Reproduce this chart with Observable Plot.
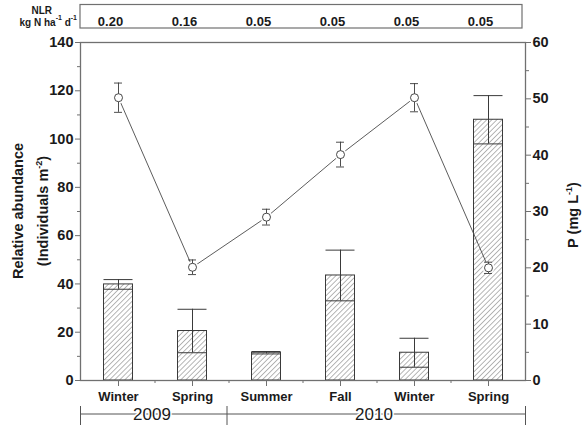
<!DOCTYPE html>
<html><head><meta charset="utf-8">
<script src="https://cdn.jsdelivr.net/npm/d3@7"></script>
<script src="https://cdn.jsdelivr.net/npm/@observablehq/plot@0.6"></script>
<style>
body{margin:0;background:#fff}
#chart svg{font-family:"Liberation Sans", Arial, sans-serif;}
</style>
</head><body><div id="chart"></div>
<script>
// ---- data ----
const seasons = ["Winter", "Spring", "Summer", "Fall", "Winter", "Spring"];
const years = ["2009", "2009", "2010", "2010", "2010", "2010"];
const abundance = [39.8, 20.5, 11.5, 43.5, 11.5, 108];
const abundanceSD = [2, 9, 0.5, 10.5, 6, 10];
const phosphorus = [50.2, 20.1, 29, 40.1, 50.2, 20];
const phosphorusSD = [2.6, 1.3, 1.4, 2.2, 2.5, 1];
const nlr = ["0.20", "0.16", "0.05", "0.05", "0.05", "0.05"];
const leftTicks = [0, 20, 40, 60, 80, 100, 120, 140];
const leftMinor = [10, 30, 50, 70, 90, 110, 130];
const rightTicks = [0, 10, 20, 30, 40, 50, 60];
const rightMinor = [5, 15, 25, 35, 45, 55];
const leftMax = 140, rightMax = 60;

// ---- table ----
const k = leftMax / rightMax;
const rows = seasons.map((s, i) => ({
  i, season: s, year: years[i], nlr: nlr[i],
  a: abundance[i], aLo: abundance[i] - abundanceSD[i], aHi: abundance[i] + abundanceSD[i],
  p: phosphorus[i] * k, pLo: (phosphorus[i] - phosphorusSD[i]) * k, pHi: (phosphorus[i] + phosphorusSD[i]) * k
}));

const ink = "#1a1a1a", axisGray = "#707070", barInk = "#3a3a3a";
const barInset = 22.5, capInset = 33;
const mTop = 42, mBottom = 47, W = 582, H = 427;

const plot = Plot.plot({
  width: W, height: H,
  marginLeft: 80, marginRight: 57, marginTop: mTop, marginBottom: mBottom,
  style: {fontFamily: "'Liberation Sans', Arial, sans-serif", color: ink, background: "#fff", overflow: "visible"},
  x: {type: "band", domain: d3.range(seasons.length), padding: 0, axis: null},
  y: {domain: [0, leftMax], axis: null},
  marks: [
    Plot.barY(rows, {x: "i", y: "a", fill: "url(#hatch)", stroke: barInk, strokeWidth: 1, insetLeft: barInset, insetRight: barInset}),
    Plot.ruleX(rows, {x: "i", y1: "aLo", y2: "aHi", stroke: barInk, strokeWidth: 1}),
    Plot.tickY(rows, {x: "i", y: "aHi", stroke: barInk, strokeWidth: 1, insetLeft: barInset, insetRight: barInset}),
    Plot.tickY(rows, {x: "i", y: "aLo", stroke: barInk, strokeWidth: 1, insetLeft: barInset, insetRight: barInset}),
    Plot.line(rows, {x: "i", y: "p", stroke: "#4a4a4a", strokeWidth: 0.9}),
    Plot.dot(rows, {x: "i", y: "p", r: 6, fill: "white", stroke: "none"}),
    Plot.ruleX(rows, {x: "i", y1: "pLo", y2: "pHi", stroke: "#3a3a3a", strokeWidth: 0.9}),
    Plot.tickY(rows, {x: "i", y: "pHi", stroke: "#3a3a3a", strokeWidth: 0.9, insetLeft: capInset, insetRight: capInset}),
    Plot.tickY(rows, {x: "i", y: "pLo", stroke: "#3a3a3a", strokeWidth: 0.9, insetLeft: capInset, insetRight: capInset}),
    Plot.dot(rows, {x: "i", y: "p", r: 4, fill: "white", stroke: "#333", strokeWidth: 0.9}),
    Plot.frame({stroke: axisGray, strokeWidth: 1.3}),
    // left axis
    Plot.axisY(leftTicks, {anchor: "left", tickSize: 5, tickPadding: 2, fontSize: 14.5, fontWeight: "bold", stroke: axisGray, fill: ink, label: null}),
    Plot.axisY(leftMinor, {anchor: "left", tickSize: 3, tickFormat: () => "", stroke: axisGray, label: null}),
    // right axis (P scale)
    Plot.axisY(rightTicks.map(v => v * k), {anchor: "right", tickSize: 5, tickPadding: 2, fontSize: 14.5, fontWeight: "bold", stroke: axisGray, fill: ink, tickFormat: v => String(Math.round(v / k)), label: null}),
    Plot.axisY(rightMinor.map(v => v * k), {anchor: "right", tickSize: 3, tickFormat: () => "", stroke: axisGray, label: null}),
    // x axis
    Plot.axisX({anchor: "bottom", tickSize: 6, tickPadding: 5, fontSize: 13, fontWeight: "bold", stroke: axisGray, fill: ink, tickFormat: i => seasons[i], label: null}),
    // NLR values
    Plot.text(rows, {x: "i", text: "nlr", frameAnchor: "top", dy: -26, dx: -8, fontSize: 13, fontWeight: "bold", fill: ink})
  ]
});

document.getElementById("chart").appendChild(plot);

// ---- decorations ----
const svg = d3.select(plot);
const sx = plot.scale("x");
const bw = sx.bandwidth;
const [x0, x1] = sx.range;
const plotTop = mTop, plotBottom = H - mBottom;

const defs = svg.insert("defs", ":first-child");
const pat = defs.append("pattern").attr("id", "hatch").attr("patternUnits", "userSpaceOnUse")
  .attr("width", 3.6).attr("height", 3.6).attr("patternTransform", "rotate(45)");
pat.append("rect").attr("width", 3.6).attr("height", 3.6).attr("fill", "white");
pat.append("line").attr("x1", 0).attr("y1", 0).attr("x2", 0).attr("y2", 3.6).attr("stroke", "#4a4a4a").attr("stroke-width", 0.8);

const g = svg.append("g").attr("fill", ink).attr("font-family", "'Liberation Sans', Arial, sans-serif");

// band-boundary minor ticks on x axis
for (let i = 1; i < seasons.length; i++) {
  const xb = sx.apply(i);
  g.append("line").attr("x1", xb).attr("x2", xb).attr("y1", plotBottom).attr("y2", plotBottom + 3).attr("stroke", axisGray);
}

// NLR box
g.append("rect").attr("x", x0).attr("y", 4.5).attr("width", x1 - x0 - 3).attr("height", 23.5)
  .attr("fill", "none").attr("stroke", axisGray).attr("stroke-width", 1.2);
const nl = g.append("text").attr("font-size", 10).attr("font-weight", "bold").attr("text-anchor", "end");
nl.append("tspan").attr("x", 52).attr("y", 14).text("NLR");
const nl2 = g.append("text").attr("font-size", 10).attr("font-weight", "bold").attr("text-anchor", "end").attr("x", 77).attr("y", 26);
nl2.append("tspan").text("kg N ha");
nl2.append("tspan").attr("dy", -6).attr("font-size", 7).text("-1");
nl2.append("tspan").attr("dy", 6).text(" d");
nl2.append("tspan").attr("dy", -6).attr("font-size", 7).text("-1");

// year brackets
const yearGroups = d3.groups(rows, d => d.year).map(([yr, rs]) => ({yr, a: sx.apply(rs[0].i), b: sx.apply(rs[rs.length - 1].i) + bw}));
const by = 414;
g.append("line").attr("x1", x0 + 0.5).attr("x2", x1 + 0.5).attr("y1", by).attr("y2", by).attr("stroke", "#555");
const edges = [x0 + 0.5, ...yearGroups.slice(1).map(d => d.a - 2), x1 + 0.5];
edges.forEach(e => g.append("line").attr("x1", e).attr("x2", e).attr("y1", 406).attr("y2", 425).attr("stroke", "#555"));
yearGroups.forEach(d => {
  g.append("text").attr("x", (d.a + d.b) / 2 - 3).attr("y", by).attr("dy", "0.36em").attr("text-anchor", "middle")
    .attr("font-size", 17).attr("stroke", "white").attr("stroke-width", 3).attr("paint-order", "stroke").text(d.yr);
});

// axis titles
const lt = g.append("g").attr("transform", `translate(18,${(plotTop + plotBottom) / 2}) rotate(-90)`).attr("font-weight", "bold").attr("font-size", 14.5).attr("text-anchor", "middle");
lt.append("text").attr("dy", "0.36em").text("Relative abundance");
const lt2 = lt.append("text").attr("y", 25).attr("dy", "0.36em");
lt2.append("tspan").text("(Individuals m");
lt2.append("tspan").attr("dy", -6).attr("font-size", 9).text("-2");
lt2.append("tspan").attr("dy", 6).text(")");

const rt = g.append("g").attr("transform", `translate(573,${(plotTop + plotBottom) / 2 + 4}) rotate(-90)`).attr("font-weight", "bold").attr("font-size", 14.5).attr("text-anchor", "middle");
const rtt = rt.append("text").attr("dy", "0.36em");
rtt.append("tspan").text("P (mg L");
rtt.append("tspan").attr("dy", -6).attr("font-size", 9).text("-1");
rtt.append("tspan").attr("dy", 6).text(")");
</script>
</body></html>
